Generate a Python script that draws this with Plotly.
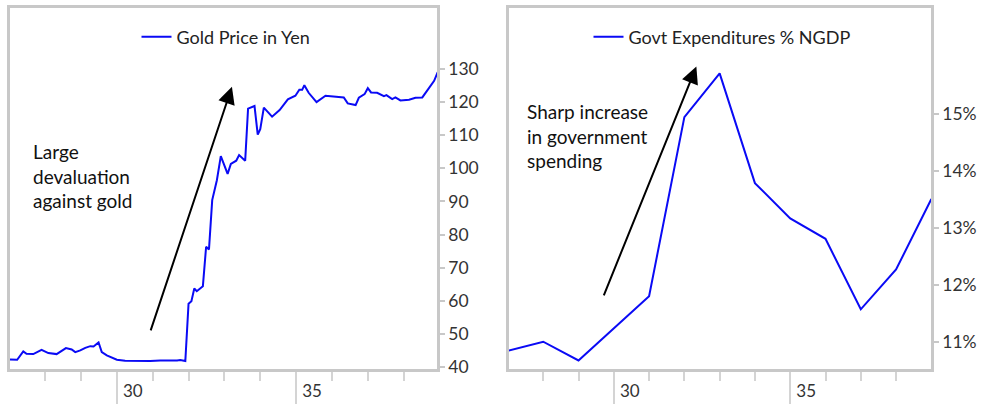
import plotly.graph_objects as go

# ---------------- data ----------------
gold_x = [27.02, 27.22, 27.39, 27.48, 27.67, 27.90, 28.09, 28.32, 28.58, 28.74, 28.84, 28.98,
          29.12, 29.26, 29.35, 29.49, 29.58, 29.72, 30.00, 30.23, 30.93, 31.21, 31.68, 31.77,
          31.91, 32.00, 32.08, 32.16, 32.23, 32.40, 32.49, 32.57, 32.66, 32.79, 32.90, 33.09,
          33.18, 33.33, 33.41, 33.58, 33.66, 33.84, 33.93, 34.00, 34.10, 34.33, 34.54, 34.77,
          34.98, 35.09, 35.17, 35.23, 35.35, 35.57, 35.82, 36.33, 36.44, 36.66, 36.75, 36.91,
          37.00, 37.09, 37.26, 37.45, 37.52, 37.68, 37.77, 37.91, 38.15, 38.33, 38.52, 38.71,
          38.85, 38.95]
gold_y = [42.3, 42.2, 44.7, 44.0, 43.9, 45.2, 44.2, 43.9, 45.7, 45.3, 44.5, 45.0,
          45.8, 46.3, 46.2, 47.4, 44.5, 43.5, 42.2, 41.9, 41.8, 42.0, 42.0, 42.1,
          41.8, 59.1, 59.9, 63.7, 62.9, 64.4, 76.3, 75.5, 90.4, 96.4, 103.7, 98.3,
          101.3, 102.3, 104.0, 102.3, 118.0, 118.8, 110.2, 111.8, 118.3, 115.6, 117.6, 120.8,
          121.9, 123.7, 123.7, 125.1, 122.8, 120.0, 121.9, 121.4, 119.6, 119.1, 121.3, 122.4,
          124.2, 122.9, 122.8, 121.8, 122.1, 120.9, 121.4, 120.5, 120.7, 121.3, 121.4, 124.5,
          126.4, 129.0]

gov_years = [27, 28, 29, 30, 31, 32, 33, 34, 35, 36, 37, 38, 39]
gov_pct = [10.84, 11.00, 10.67, 11.24, 11.80, 14.95, 15.72, 13.79, 13.17, 12.81, 11.57, 12.27, 13.51]

gold_ticks = [40, 50, 60, 70, 80, 90, 100, 110, 120, 130]
gov_ticks = [11, 12, 13, 14, 15]
gov_tick_labels = ["11%", "12%", "13%", "14%", "15%"]
year_major = [30, 35]
year_labels = ["30", "35"]

# ---------------- figure ----------------
W, H = 982, 404
FONT = "Lato"
BLUE = "#0a0af5"
FRAME = "#c8c8c8"

fig = go.Figure()
fig.add_trace(go.Scatter(x=gold_x, y=gold_y, mode="lines", name="Gold Price in Yen",
                         line=dict(color=BLUE, width=2), xaxis="x", yaxis="y",
                         legend="legend"))
fig.add_trace(go.Scatter(x=gov_years, y=gov_pct, mode="lines", name="Govt Expenditures % NGDP",
                         line=dict(color=BLUE, width=2), xaxis="x2", yaxis="y2",
                         legend="legend2"))

dom1 = [10 / W, 437 / W]
dom2 = [509 / W, 931 / W]
ydom = [1 - 369 / H, 1 - 8 / H]

def xaxis_cfg(domain, rng, anchor):
    return dict(domain=domain, range=rng, anchor=anchor, automargin=False,
                showline=True, mirror=True, linecolor=FRAME, linewidth=2.5,
                showgrid=False, zeroline=False,
                tickmode="array", tickvals=year_major, ticktext=year_labels,
                ticks="outside", ticklen=36, tickwidth=2, tickcolor="#d4d4d4",
                ticklabelshift=16, ticklabelstandoff=-31,
                tickfont=dict(family=FONT, size=17, color="#333333"),
                minor=dict(tickmode="linear", tick0=27, dtick=1, ticks="outside",
                           ticklen=9, tickwidth=2, tickcolor="#d4d4d4"))

def yaxis_cfg(domain, rng, anchor, ticks, labels):
    return dict(domain=domain, range=rng, anchor=anchor, side="right", automargin=False,
                showline=True, mirror=True, linecolor=FRAME, linewidth=2.5,
                showgrid=False, zeroline=False,
                tickmode="array", tickvals=ticks, ticktext=labels,
                ticks="outside", ticklen=5, tickwidth=2, tickcolor=FRAME,
                tickfont=dict(family=FONT, size=17.5, color="#333333"))

fig.update_layout(
    width=W, height=H,
    margin=dict(l=0, r=0, t=0, b=0, autoexpand=False),
    paper_bgcolor="white", plot_bgcolor="white",
    font=dict(family=FONT, size=17, color="#222222"),
    xaxis=xaxis_cfg(dom1, [27.02, 38.93], "y"),
    yaxis=yaxis_cfg(ydom, [39.4, 148.4], "x", gold_ticks, [str(v) for v in gold_ticks]),
    xaxis2=xaxis_cfg(dom2, [27.03, 38.99], "y2"),
    yaxis2=yaxis_cfg(ydom, [10.52, 16.87], "x2", gov_ticks, gov_tick_labels),
    legend=dict(x=226 / W, y=1 - 37 / H, xanchor="center", yanchor="middle",
                bgcolor="rgba(0,0,0,0)", font=dict(family=FONT, size=18, color="#222222")),
    legend2=dict(x=722 / W, y=1 - 37 / H, xanchor="center", yanchor="middle",
                 bgcolor="rgba(0,0,0,0)", font=dict(family=FONT, size=18, color="#222222")),
    showlegend=True,
)

fig.add_annotation(xref="x", yref="y", x=27.6, y=97.8, xanchor="left", yanchor="middle",
                   align="left", showarrow=False,
                   text="Large<br>devaluation<br>against gold",
                   font=dict(family=FONT, size=19, color="#111111"))
fig.add_annotation(xref="x", yref="y", axref="x", ayref="y",
                   x=33.21, y=124.6, ax=30.93, ay=50.6, text="",
                   showarrow=True, arrowhead=2, arrowsize=1.7, arrowwidth=2, arrowcolor="black")

fig.add_annotation(xref="x2", yref="y2", x=27.48, y=14.61, xanchor="left", yanchor="middle",
                   align="left", showarrow=False,
                   text="Sharp increase<br>in government<br>spending",
                   font=dict(family=FONT, size=19, color="#111111"))
fig.add_annotation(xref="x2", yref="y2", axref="x2", ayref="y2",
                   x=32.34, y=15.84, ax=29.70, ay=11.79, text="",
                   showarrow=True, arrowhead=2, arrowsize=1.7, arrowwidth=2, arrowcolor="black")

fig.write_html("out.html")
